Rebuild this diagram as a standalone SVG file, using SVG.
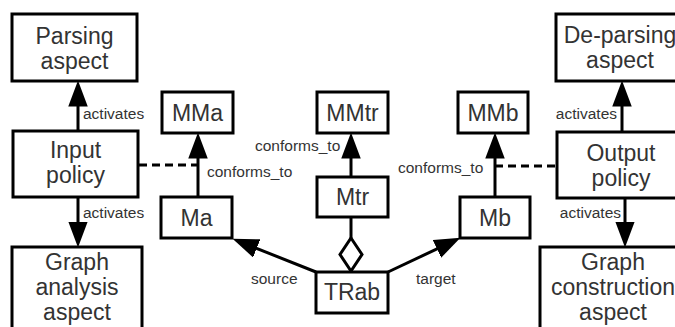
<svg xmlns="http://www.w3.org/2000/svg" width="675" height="327" viewBox="0 0 675 327">
  <style>
    .box { fill: #ffffff; stroke: #000000; stroke-width: 3; }
    .big { font-family: "Liberation Sans", Arial, sans-serif; font-size: 23px; fill: #333333; text-anchor: middle; }
    .lbl { font-family: "Liberation Sans", Arial, sans-serif; font-size: 15.5px; fill: #333333; }
    .edge { fill: none; stroke: #000000; stroke-width: 3; }
    .dash { fill: none; stroke: #000000; stroke-width: 3; stroke-dasharray: 8 5; }
  </style>
  <defs>
    <marker id="arrow" markerUnits="userSpaceOnUse" markerWidth="26" markerHeight="20" viewBox="0 0 24 18" refX="18" refY="9" orient="auto">
      <path d="M0,0 L24,9 L0,18 z" fill="#000000"/>
    </marker>
  </defs>

  <g id="connectors">
    <line class="edge" x1="78" y1="131" x2="78" y2="87" marker-end="url(#arrow)"/>
    <line class="edge" x1="78" y1="197" x2="78" y2="241" marker-end="url(#arrow)"/>
    <line class="edge" x1="198" y1="197" x2="198" y2="139" marker-end="url(#arrow)"/>
    <line class="edge" x1="351" y1="177" x2="351" y2="139" marker-end="url(#arrow)"/>
    <line class="edge" x1="495" y1="197" x2="495" y2="139" marker-end="url(#arrow)"/>
    <line class="edge" x1="622" y1="132" x2="622" y2="87" marker-end="url(#arrow)"/>
    <line class="edge" x1="625" y1="198" x2="625" y2="241" marker-end="url(#arrow)"/>
    <line class="edge" x1="316" y1="272" x2="238.6" y2="241.2" marker-end="url(#arrow)"/>
    <line class="edge" x1="388" y1="272" x2="454.6" y2="240.6" marker-end="url(#arrow)"/>
    <line class="edge" x1="351" y1="217" x2="351" y2="238"/>
    <polygon class="box" points="351,238 362,254.5 351,271 340,254.5"/>
    <line class="dash" x1="139" y1="165" x2="198" y2="165"/>
    <line class="dash" x1="495" y1="166" x2="557" y2="166"/>
    <text class="lbl" x="83" y="119">activates</text>
    <text class="lbl" x="83" y="218">activates</text>
    <text class="lbl" x="255" y="151">conforms_to</text>
    <text class="lbl" x="207" y="177">conforms_to</text>
    <text class="lbl" x="398" y="173">conforms_to</text>
    <text class="lbl" x="251" y="284">source</text>
    <text class="lbl" x="416" y="284">target</text>
    <text class="lbl" x="617" y="119" text-anchor="end">activates</text>
    <text class="lbl" x="621" y="218" text-anchor="end">activates</text>
  </g>

  <g id="parsing-aspect">
    <rect class="box" x="12" y="14" width="125" height="67"/>
    <text class="big" x="74.5" y="44">Parsing</text>
    <text class="big" x="74.5" y="69">aspect</text>
  </g>
  <g id="input-policy">
    <rect class="box" x="13" y="131" width="125" height="66"/>
    <text class="big" x="75.5" y="158">Input</text>
    <text class="big" x="75.5" y="183">policy</text>
  </g>
  <g id="graph-analysis-aspect">
    <rect class="box" x="12" y="247" width="130" height="100"/>
    <text class="big" x="77" y="270">Graph</text>
    <text class="big" x="77" y="295">analysis</text>
    <text class="big" x="77" y="320">aspect</text>
  </g>
  <g id="MMa">
    <rect class="box" x="162" y="92" width="71" height="41"/>
    <text class="big" x="197.5" y="121">MMa</text>
  </g>
  <g id="Ma">
    <rect class="box" x="161" y="197" width="71" height="41"/>
    <text class="big" x="196.5" y="226">Ma</text>
  </g>
  <g id="MMtr">
    <rect class="box" x="317" y="92" width="71" height="41"/>
    <text class="big" x="352.5" y="121">MMtr</text>
  </g>
  <g id="Mtr">
    <rect class="box" x="317" y="177" width="71" height="40"/>
    <text class="big" x="352.5" y="205">Mtr</text>
  </g>
  <g id="TRab">
    <rect class="box" x="316" y="272" width="72" height="41"/>
    <text class="big" x="352" y="300">TRab</text>
  </g>
  <g id="MMb">
    <rect class="box" x="458" y="92" width="70" height="41"/>
    <text class="big" x="493" y="121">MMb</text>
  </g>
  <g id="Mb">
    <rect class="box" x="460" y="197" width="70" height="41"/>
    <text class="big" x="495" y="226">Mb</text>
  </g>
  <g id="de-parsing-aspect">
    <rect class="box" x="556" y="14" width="128" height="67"/>
    <text class="big" x="620" y="43">De-parsing</text>
    <text class="big" x="620" y="68">aspect</text>
  </g>
  <g id="output-policy">
    <rect class="box" x="557" y="132" width="128" height="66"/>
    <text class="big" x="621" y="161">Output</text>
    <text class="big" x="621" y="186">policy</text>
  </g>
  <g id="graph-construction-aspect">
    <rect class="box" x="540" y="247" width="146" height="100"/>
    <text class="big" x="613" y="270">Graph</text>
    <text class="big" x="613" y="295">construction</text>
    <text class="big" x="613" y="320">aspect</text>
  </g>
</svg>
